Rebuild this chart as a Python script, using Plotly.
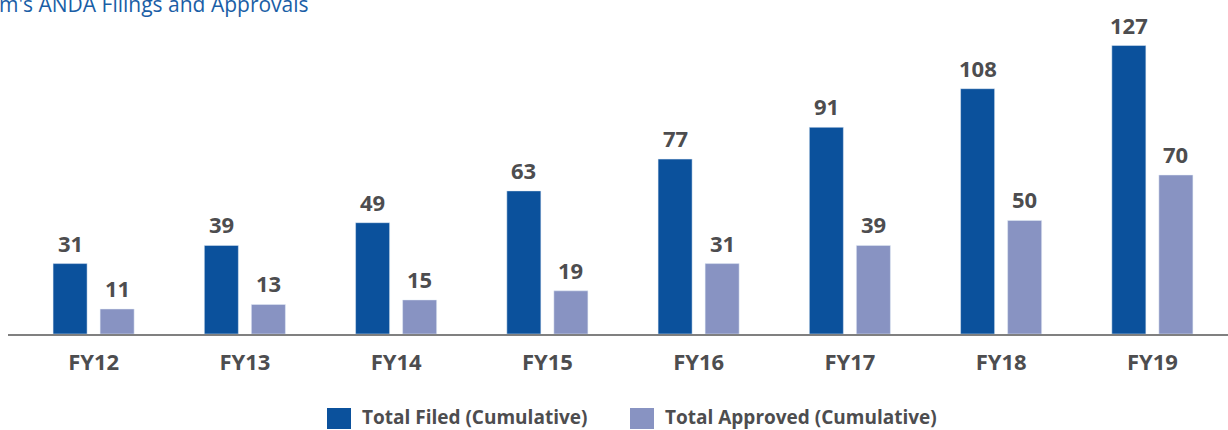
import plotly.graph_objects as go

# data
years = ["FY12", "FY13", "FY14", "FY15", "FY16", "FY17", "FY18", "FY19"]
filed = [31, 39, 49, 63, 77, 91, 108, 127]
approved = [11, 13, 15, 19, 31, 39, 50, 70]
series_names = ["Total Filed (Cumulative)", "Total Approved (Cumulative)"]

blue = "#0b519c"
lilac = "#8893c2"
grey = "#4d4d4f"
font = "Open Sans"

W, H = 1228, 430
L, R, T, B = 8, 0, 16, 96
pw, ph = W - L - R, H - T - B


def px(x):
    return (x - L) / pw


def py(y):
    return (H - B - y) / ph


fig = go.Figure()
fig.add_trace(go.Bar(x=years, y=filed, name=series_names[0],
                     marker_color=blue, width=0.225, offset=-0.268))
fig.add_trace(go.Bar(x=years, y=approved, name=series_names[1],
                     marker_color=lilac, width=0.225, offset=0.043))

# value labels above the bars
for yr, v in zip(years, filed):
    fig.add_annotation(x=yr, y=v, text=f"<b>{v}</b>", showarrow=False,
                       xshift=-23.5, yshift=4, yanchor="bottom",
                       font=dict(family=font, size=22, color=grey))
for yr, v in zip(years, approved):
    fig.add_annotation(x=yr, y=v, text=f"<b>{v}</b>", showarrow=False,
                       xshift=23.5, yshift=4, yanchor="bottom",
                       font=dict(family=font, size=22, color=grey))

# title (clipped at the left edge in the original)
fig.add_annotation(xref="paper", yref="paper", x=px(0), y=py(4), xanchor="left",
                   yanchor="middle", xshift=-3, showarrow=False,
                   text="m's ANDA Filings and Approvals",
                   font=dict(family=font, size=21, color="#1a5ea6"))

# legend drawn by hand so the swatches can be large
for (x0, x1), col, name in zip([(327, 351), (630, 654)], [blue, lilac], series_names):
    fig.add_shape(type="rect", xref="paper", yref="paper",
                  x0=px(x0), x1=px(x1), y0=py(429), y1=py(408),
                  fillcolor=col, line_width=0)
    fig.add_annotation(xref="paper", yref="paper", x=px(x1 + 9), y=py(417),
                       xanchor="left", yanchor="middle", showarrow=False,
                       text=f"<b>{name}</b>",
                       font=dict(family=font, size=19, color=grey))

fig.update_layout(
    width=W, height=H,
    margin=dict(l=L, r=R, t=T, b=B, autoexpand=False),
    plot_bgcolor="white", paper_bgcolor="white",
    barmode="overlay",
    showlegend=False,
    xaxis=dict(range=[-0.566, 7.5], showgrid=False, ticks="", automargin=False,
               showline=True, linecolor="#808080", linewidth=2,
               tickfont=dict(family=font, size=22, color=grey),
               ticklabelstandoff=8),
    yaxis=dict(range=[0, 140], visible=False, showgrid=False, automargin=False),
)
fig.update_xaxes(tickvals=years, ticktext=[f"<b>{y}</b>" for y in years])

# page body has a default margin; drop it so the figure fills the window
fig.write_html("out.html", config={"displayModeBar": False},
               post_script="document.body.style.margin='0';"
               "document.body.style.overflow='hidden';")
